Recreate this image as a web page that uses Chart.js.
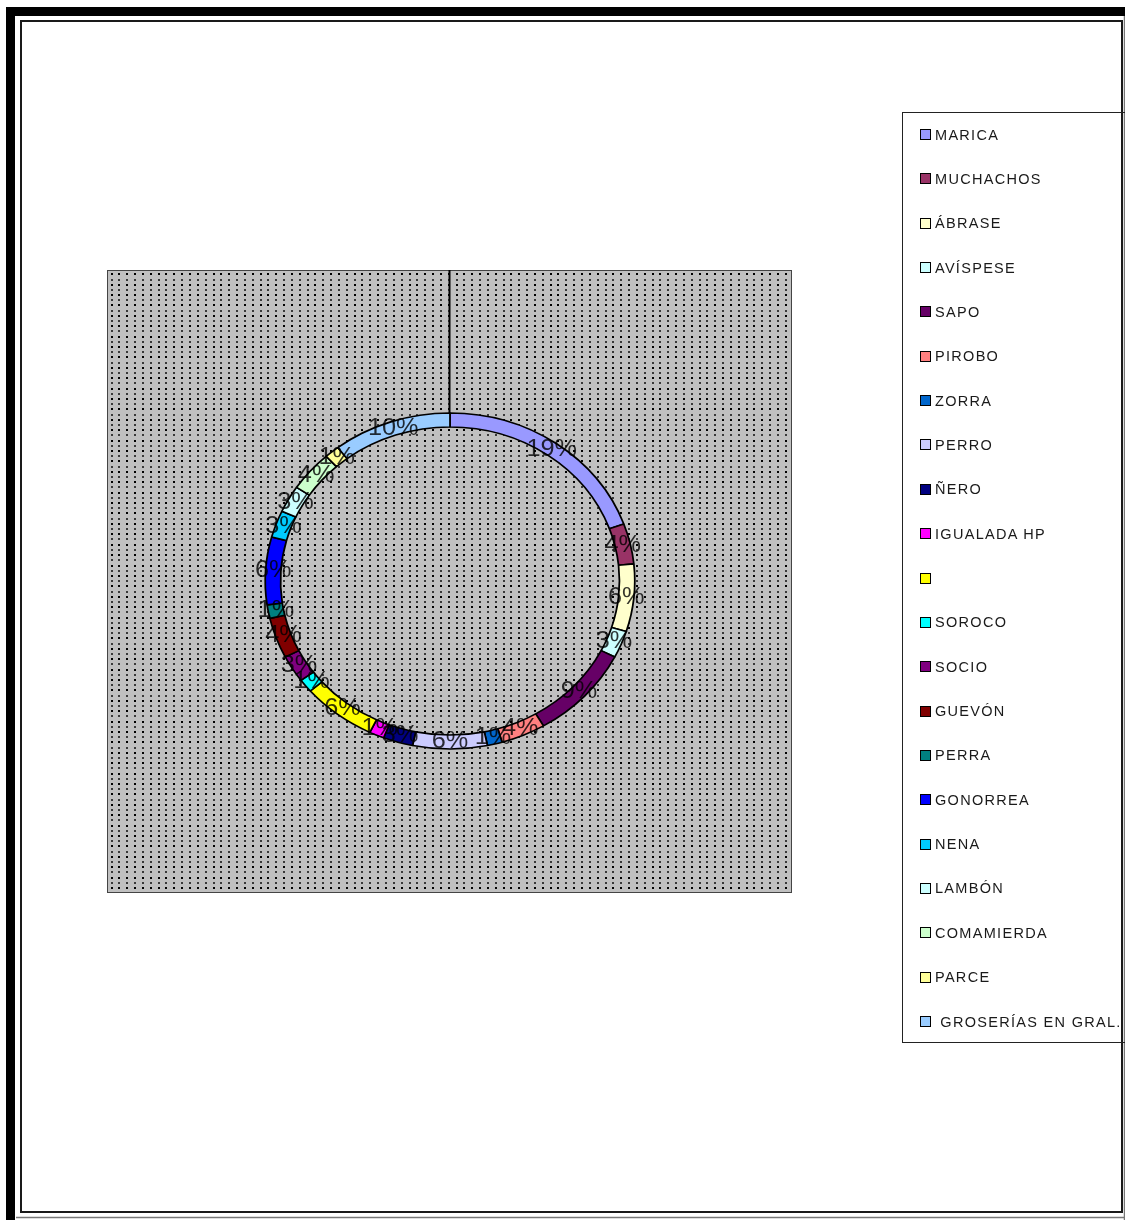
<!DOCTYPE html>
<html>
<head>
<meta charset="utf-8">
<script src="https://cdn.jsdelivr.net/npm/chart.js@4.4.1/dist/chart.umd.min.js"></script>
<style>
  html, body { margin: 0; padding: 0; background: #fff; overflow: hidden; }
  #wrap { position: relative; width: 1125px; height: 1220px; }
  #c { position: absolute; left: 0; top: 0; }
  #legend {
    position: absolute; left: 902px; top: 112px; width: 300px; height: 931px;
    border: 1px solid #222; box-sizing: border-box;
  }
  .item {
    position: absolute; left: 17px; height: 20px; display: flex; align-items: center;
    font: 14.5px "Liberation Sans", Arial, sans-serif; letter-spacing: 1.3px;
    color: #1a1a1a; white-space: pre;
  }
  .sw { width: 9px; height: 9px; border: 1.6px solid #000; margin-right: 4px; flex: none; }
</style>
</head>
<body>
<div id="wrap">
  <canvas id="c" width="1125" height="1220"></canvas>
  <div id="legend"></div>
</div>
<script>
// Word categories (clockwise from the top of the ring)
const categories = [
  'MARICA', 'MUCHACHOS', 'ÁBRASE', 'AVÍSPESE', 'SAPO', 'PIROBO', 'ZORRA', 'PERRO',
  'ÑERO', 'IGUALADA HP', '', 'SOROCO', 'SOCIO', 'GUEVÓN', 'PERRA', 'GONORREA',
  'NENA', 'LAMBÓN', 'COMAMIERDA', 'PARCE', ' GROSERÍAS EN GRAL.'
];
// Number of mentions per word
const counts = [15, 3, 5, 2, 7, 3, 1, 5, 2, 1, 5, 1, 2, 3, 1, 5, 2, 2, 3, 1, 8];
// Segment fill colours
const colors = [
  '#9999FF', '#993366', '#FFFFCC', '#CCFFFF', '#660066', '#FF8080', '#0066CC', '#CCCCFF',
  '#000080', '#FF00FF', '#FFFF00', '#00FFFF', '#800080', '#800000', '#008080', '#0000FF',
  '#00CCFF', '#CCFFFF', '#CCFFCC', '#FFFF99', '#99CCFF'
];

const total = counts.reduce((a, b) => a + b, 0);
const CX = 450, STRETCH = 1.1;

// Page frame and the dotted grey plot area
const backdrop = {
  id: 'backdrop',
  beforeDraw(chart) {
    const ctx = chart.ctx;
    ctx.save();
    ctx.fillStyle = '#fff';
    ctx.fillRect(0, 0, chart.width, chart.height);

    ctx.fillStyle = '#c0c0c0';
    ctx.fillRect(107, 270, 685, 623);
    let row = 0;
    for (let y = 273.3; y < 891; y += 5.2, row++) {
      ctx.fillStyle = row % 2 ? '#3a3a3a' : '#000';
      for (let x = 110.6; x < 790; x += 7.84) {
        ctx.fillRect(Math.round(x), Math.round(y), 2, 2);
      }
    }
    ctx.strokeStyle = '#444';
    ctx.lineWidth = 1;
    ctx.strokeRect(107.5, 270.5, 684, 622);

    ctx.fillStyle = '#000';
    ctx.fillRect(6, 7, 9, 1213);
    ctx.fillRect(6, 7, 1119, 9);
    ctx.strokeStyle = '#1a1a1a';
    ctx.lineWidth = 2;
    ctx.strokeRect(21, 21, 1101, 1191);
    ctx.strokeStyle = '#777';
    ctx.lineWidth = 1.5;
    ctx.beginPath();
    ctx.moveTo(16, 1217.5); ctx.lineTo(1125, 1217.5);
    ctx.moveTo(1124.5, 16); ctx.lineTo(1124.5, 1220);
    ctx.stroke();
    ctx.restore();
  }
};

// Widen the ring horizontally and write the percentage on each segment
const ringLabels = {
  id: 'ringLabels',
  beforeDatasetsDraw(chart) {
    const ctx = chart.ctx;
    ctx.save();
    ctx.translate(CX, 0);
    ctx.scale(STRETCH, 1);
    ctx.translate(-CX, 0);
  },
  afterDatasetsDraw(chart) {
    const ctx = chart.ctx;
    const meta = chart.getDatasetMeta(0);
    ctx.font = '23px "Liberation Sans", Arial, sans-serif';
    ctx.fillStyle = 'rgba(0,0,0,0.8)';
    ctx.textAlign = 'center';
    ctx.textBaseline = 'middle';
    meta.data.forEach((arc, i) => {
      const p = arc.getCenterPoint();
      const pct = Math.round(counts[i] / total * 100);
      ctx.fillText(pct + '%', p.x, p.y);
    });
    ctx.restore();

    // leader line from the top of the plot area down to the ring
    const top = meta.data[0].getProps(['y', 'outerRadius'], true);
    ctx.save();
    ctx.strokeStyle = '#000';
    ctx.lineWidth = 2;
    ctx.beginPath();
    ctx.moveTo(CX - 0.5, 270);
    ctx.lineTo(CX - 0.5, top.y - top.outerRadius);
    ctx.stroke();
    ctx.restore();
  }
};

new Chart(document.getElementById('c'), {
  type: 'doughnut',
  data: {
    labels: categories,
    datasets: [{
      data: counts,
      backgroundColor: colors,
      borderColor: '#000',
      borderWidth: 1.6
    }]
  },
  options: {
    responsive: false,
    animation: false,
    events: [],
    radius: 168,
    cutout: '91.7%',
    layout: { padding: { left: 0, right: 225, top: 0, bottom: 58 } },
    plugins: { legend: { display: false }, tooltip: { enabled: false } }
  },
  plugins: [backdrop, ringLabels]
});

// Legend built from the same category and colour arrays
const legend = document.getElementById('legend');
categories.forEach((name, i) => {
  const item = document.createElement('div');
  item.className = 'item';
  item.style.top = (134.5 + i * 44.35 - 113 - 10) + 'px';
  const sw = document.createElement('span');
  sw.className = 'sw';
  sw.style.background = colors[i];
  const txt = document.createElement('span');
  txt.textContent = name;
  item.appendChild(sw);
  item.appendChild(txt);
  legend.appendChild(item);
});
</script>
</body>
</html>
